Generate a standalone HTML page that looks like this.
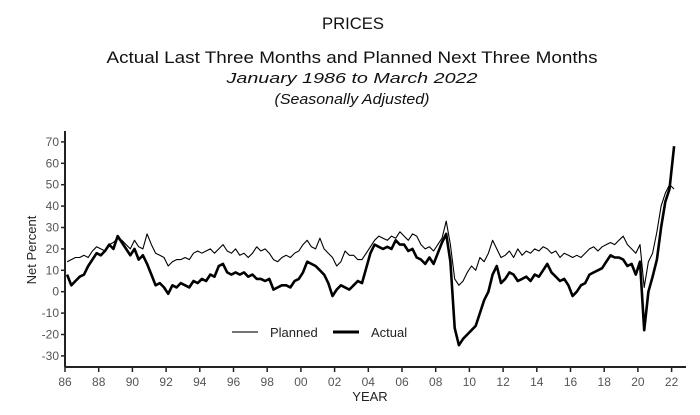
<!DOCTYPE html>
<html><head><meta charset="utf-8"><style>
body{margin:0;background:#fff;width:700px;height:410px;overflow:hidden;font-family:"Liberation Sans",sans-serif}
</style></head><body>
<svg width="700" height="410" id="chart">
<text x="353" y="29" text-anchor="middle" font-size="17" fill="#111" textLength="62" lengthAdjust="spacingAndGlyphs">PRICES</text>
<text x="352" y="63" text-anchor="middle" font-size="17" fill="#111" textLength="491" lengthAdjust="spacingAndGlyphs">Actual Last Three Months and Planned Next Three Months</text>
<text x="352" y="83" text-anchor="middle" font-size="15" font-style="italic" fill="#111" textLength="251" lengthAdjust="spacingAndGlyphs">January 1986 to March 2022</text>
<text x="352" y="104" text-anchor="middle" font-size="15" font-style="italic" fill="#111" textLength="155" lengthAdjust="spacingAndGlyphs">(Seasonally Adjusted)</text>
<g id="axes"></g>
<g id="series"></g>
<g>
<line x1="232" y1="332" x2="258" y2="332" stroke="#222" stroke-width="1.2"/>
<text x="270" y="337" font-size="13" fill="#222">Planned</text>
<line x1="333" y1="332" x2="359" y2="332" stroke="#000" stroke-width="3"/>
<text x="371" y="337" font-size="13" fill="#222">Actual</text>
</g>
<text x="36" y="250" font-size="13" fill="#222" text-anchor="middle" transform="rotate(-90 36 250)">Net Percent</text>
<text x="370" y="401" font-size="13" fill="#222" text-anchor="middle">YEAR</text>
</svg>
<script>
const yTicks=[70,60,50,40,30,20,10,0,-10,-20,-30];
const xTickYears=[1986,1988,1990,1992,1994,1996,1998,2000,2002,2004,2006,2008,2010,2012,2014,2016,2018,2020,2022];
const planned=[14,15,16,16,17,16,19,21,20,19,22,23,25,24,22,20,24,21,20,27,22,18,17,16,12,14,15,15,16,15,18,19,18,19,20,18,20,22,19,18,20,17,18,16,18,21,19,20,18,15,14,16,17,16,18,19,22,24,21,20,25,20,18,16,12,14,19,17,17,15,15,18,21,24,26,25,24,26,25,28,26,24,27,26,22,20,21,19,22,25,33,22,6,3,5,9,12,10,16,14,18,24,20,16,17,19,16,20,17,19,18,20,19,21,20,18,19,16,18,17,16,17,16,18,20,21,19,21,22,23,22,24,26,22,20,18,22,2,14,18,28,40,46,50,48];
const actual=[8,3,5,7,8,12,15,18,17,19,22,20,26,23,20,17,20,15,17,13,8,3,4,2,-1,3,2,4,3,2,5,4,6,5,8,7,12,13,9,8,9,8,9,7,8,6,6,5,6,1,2,3,3,2,5,6,9,14,13,12,10,8,4,-2,1,3,2,1,3,5,4,11,18,22,21,20,21,20,24,22,22,19,20,16,15,13,16,13,18,23,27,14,-17,-25,-22,-20,-18,-16,-10,-4,0,8,12,4,6,9,8,5,6,7,5,8,7,10,13,9,7,5,6,3,-2,0,3,4,8,9,10,11,14,17,16,16,15,12,13,8,14,-18,0,7,15,30,42,48,68];
const NS="http://www.w3.org/2000/svg";
const X0=65,PXY=16.85,Y0=291.7,PXV=2.14;
const xs=t=>X0+(t-1986)*PXY;
const ys=v=>Y0-v*PXV;
const tOf=i=>i<144?1986+i*0.25+0.125:2022.15;
const axes=document.getElementById('axes');
function mk(tag,attrs,parent){const e=document.createElementNS(NS,tag);for(const k in attrs)e.setAttribute(k,attrs[k]);parent.appendChild(e);return e;}
let e=mk('line',{x1:X0,y1:131,x2:X0,y2:367,stroke:'#222','stroke-width':2},axes);


e=mk('line',{x1:X0,y1:367,x2:686,y2:367,stroke:'#222','stroke-width':2},axes);


yTicks.forEach(v=>{
 const y=ys(v);
 let t=mk('line',{x1:X0-4,y1:y,x2:X0,y2:y,stroke:'#222','stroke-width':1.5},axes);
 
 
 let l=mk('text',{x:X0-6,y:y+4,'font-size':12,fill:'#555','text-anchor':'end'},axes);
 l.textContent=v;
 
 
});
xTickYears.forEach(yr=>{
 const x=xs(yr);
 let t=mk('line',{x1:x,y1:367,x2:x,y2:372,stroke:'#222','stroke-width':1.5},axes);
 
 
 let l=mk('text',{x:x,y:386,'font-size':12,fill:'#555','text-anchor':'middle'},axes);
 l.textContent=String(yr%100).padStart(2,'0');
 
 
});
const ser=document.getElementById('series');
function line(data,w,name){
 const d=data.map((v,i)=>(i?'L':'M')+xs(tOf(i)).toFixed(1)+','+ys(v).toFixed(1)).join('');
 const p=mk('path',{d:d,fill:'none',stroke:'#000','stroke-width':w,'stroke-linejoin':'round'},ser);
 
 
}
line(planned,1.1,'planned-line');
line(actual,2.6,'actual-line');
</script>
</body></html>
